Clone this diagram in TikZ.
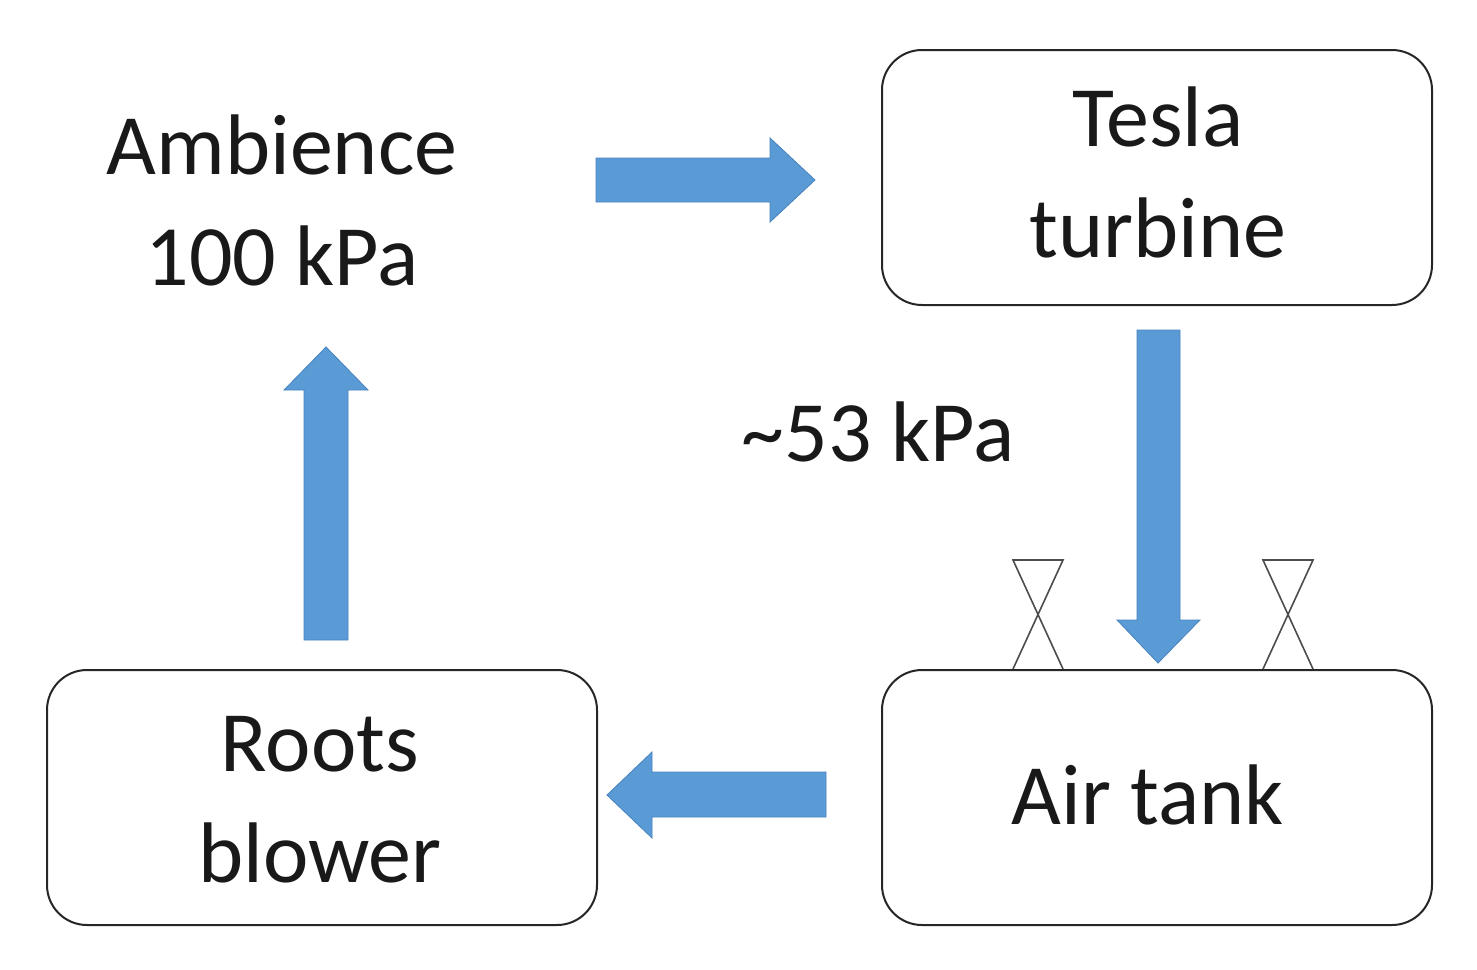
\documentclass[tikz,border=0pt]{standalone}
\usepackage{fontspec}
\setmainfont{Carlito}
\begin{document}
\begin{tikzpicture}[x=1pt,y=-1pt,
  box/.style={draw=black!85,line width=2pt,rounded corners=40pt},
  lbl/.style={font=\fontsize{86}{111}\selectfont,align=center,text=black!90},
  barrow/.style={fill=blue!30!cyan!10!white,fill={rgb,255:red,91;green,155;blue,213},draw={rgb,255:red,70;green,130;blue,190},line width=0.8pt},
  valve/.style={draw=black!70,line width=1.6pt}]
\useasboundingbox (0,0) rectangle (1477,969);
\draw[box] (882,50) rectangle (1432,305);
\draw[box] (882,670) rectangle (1432,925);
\draw[box] (47,670) rectangle (597,925);
\node[lbl] (amb) at (282,200) {Ambience\\100 kPa};
\node[lbl] (tes) at (1158,172) {Tesla\\turbine};
\node[lbl] (roo) at (320,800) {Roots\\blower};
\node[lbl] (air) at (1148,795) {Air tank};
\node[lbl] (p53) at (878,432) {\textasciitilde 53 kPa};
% block arrows
\draw[barrow] (596,158)--(770,158)--(770,138)--(815,180)--(770,222)--(770,202)--(596,202)--cycle;
\draw[barrow] (1137,330)--(1180,330)--(1180,620)--(1200,620)--(1158,663)--(1117,620)--(1137,620)--cycle;
\draw[barrow] (826,772)--(652,772)--(652,752)--(607,795)--(652,838)--(652,817)--(826,817)--cycle;
\draw[barrow] (304,640)--(304,390)--(284,390)--(326,347)--(368,390)--(348,390)--(348,640)--cycle;
% valves
\foreach \c in {1038,1288}{
  \draw[valve] (\c-25,669)--(\c+25,560)--(\c-25,560)--(\c+25,669);
}
\end{tikzpicture}
\end{document}
